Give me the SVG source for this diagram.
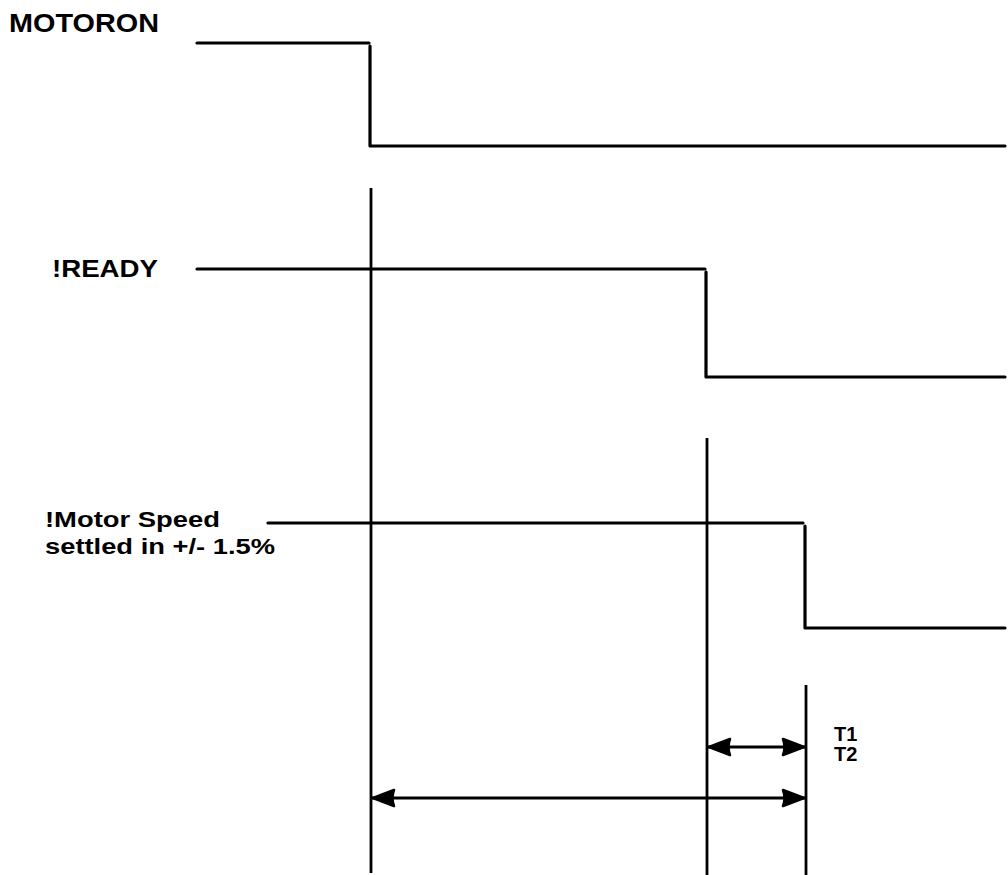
<svg xmlns="http://www.w3.org/2000/svg" width="1008" height="875" viewBox="0 0 1008 875">
<style>
.sig{fill:none;stroke:#000;stroke-width:3.2;stroke-linejoin:round;stroke-linecap:round}
.ref{fill:none;stroke:#000;stroke-width:2.8}
.dim{fill:none;stroke:#000;stroke-width:2.8}
.lbl{font-family:"Liberation Sans",Arial,sans-serif;font-weight:bold;fill:#000}
</style>
<defs>
<marker id="ah" viewBox="0 0 24 20" refX="24" refY="10" markerWidth="24" markerHeight="20" markerUnits="userSpaceOnUse" orient="auto-start-reverse">
<path d="M2,2 Q5,10 2,18 L23,10 Z" fill="#000" stroke="#000" stroke-width="2.5" stroke-linejoin="round"/>
</marker>
</defs>
<rect width="1008" height="875" fill="#fff"/>
<g id="label-motoron"><text class="lbl" x="9" y="32" font-size="26" textLength="150" lengthAdjust="spacingAndGlyphs">MOTORON</text></g>
<g id="label-ready"><text class="lbl" x="52" y="277" font-size="24" textLength="106" lengthAdjust="spacingAndGlyphs">!READY</text></g>
<g id="label-speed">
<text class="lbl" x="45" y="527" font-size="22" textLength="175" lengthAdjust="spacingAndGlyphs">!Motor Speed</text>
<text class="lbl" x="45" y="554" font-size="22" textLength="230" lengthAdjust="spacingAndGlyphs">settled in +/- 1.5%</text>
</g>
<g id="label-t"><text class="lbl" x="834" y="741" font-size="20">T1</text><text class="lbl" x="834" y="761" font-size="20">T2</text></g>
<g id="signals">
<path id="sig-motoron" class="sig" d="M197,43 H369 M370,46 V146 H1005"/>
<path id="sig-ready" class="sig" d="M197,269 H705 M706,272 V377 H1005"/>
<path id="sig-speed" class="sig" d="M268,523 H803 M805,526 V628 H1005"/>
</g>
<g id="connectors">
<line class="ref" x1="371" y1="188" x2="371" y2="873"/>
<line class="ref" x1="707" y1="438" x2="707" y2="875"/>
<line class="ref" x1="806" y1="685" x2="806" y2="875"/>
<line class="dim" x1="708" y1="747" x2="805" y2="747" marker-start="url(#ah)" marker-end="url(#ah)"/>
<line class="dim" x1="372" y1="798" x2="805" y2="798" marker-start="url(#ah)" marker-end="url(#ah)"/>
</g>
</svg>
